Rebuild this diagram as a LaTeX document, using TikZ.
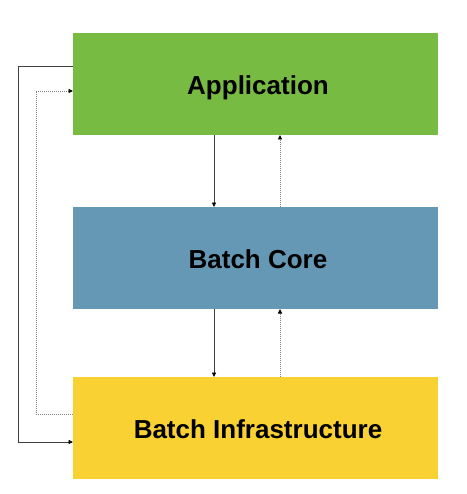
\documentclass[tikz,border=0pt]{standalone}
\usepackage{fontspec}
\setmainfont{Liberation Sans}
\usetikzlibrary{arrows.meta}
\definecolor{appgreen}{RGB}{120,187,67}
\definecolor{coreblue}{RGB}{101,152,180}
\definecolor{infrayellow}{RGB}{249,209,51}
\begin{document}
\begin{tikzpicture}[x=1pt,y=-1pt,
  layer/.style={minimum width=365pt,minimum height=102pt,inner sep=0pt,outer sep=0pt,
    text height=20.6pt,text depth=0pt,execute at begin node={\hspace*{5pt}},
    font=\fontsize{26}{30}\selectfont\bfseries,anchor=north west},
  solidarrow/.style={draw=black!75,line width=0.8pt,-{Triangle[length=4.5pt,width=4pt,color=black]}},
  dottedarrow/.style={draw=black!50,line width=0.8pt,dash pattern=on 1pt off 1pt,
    -{Triangle[length=4.5pt,width=4pt,color=black,fill=black,sep=0pt]}}]
\useasboundingbox (0,0) rectangle (466,494);
\node[layer,fill=appgreen] (app) at (73,33) {Application};
\node[layer,fill=coreblue] (core) at (73,207) {Batch Core};
\node[layer,fill=infrayellow] (infra) at (73,377) {Batch Infrastructure};
% side connectors
\coordinate (s1) at (18,66);
\coordinate (s2) at (18,442);
\coordinate (d1) at (36,414);
\coordinate (d2) at (36,91);
\draw[solidarrow] (app.west |- s1) -- (s1) -- (s2) -- (infra.west |- s2);
\draw[dottedarrow] (infra.west |- d1) -- (d1) -- (d2) -- (app.west |- d2);
% vertical connectors
\coordinate (vs) at (214,0);
\coordinate (vd) at (280,0);
\draw[solidarrow] (app.south -| vs) -- (core.north -| vs);
\draw[dottedarrow] (core.north -| vd) -- (app.south -| vd);
\draw[solidarrow] (core.south -| vs) -- (infra.north -| vs);
\draw[dottedarrow] (infra.north -| vd) -- (core.south -| vd);
\end{tikzpicture}
\end{document}
